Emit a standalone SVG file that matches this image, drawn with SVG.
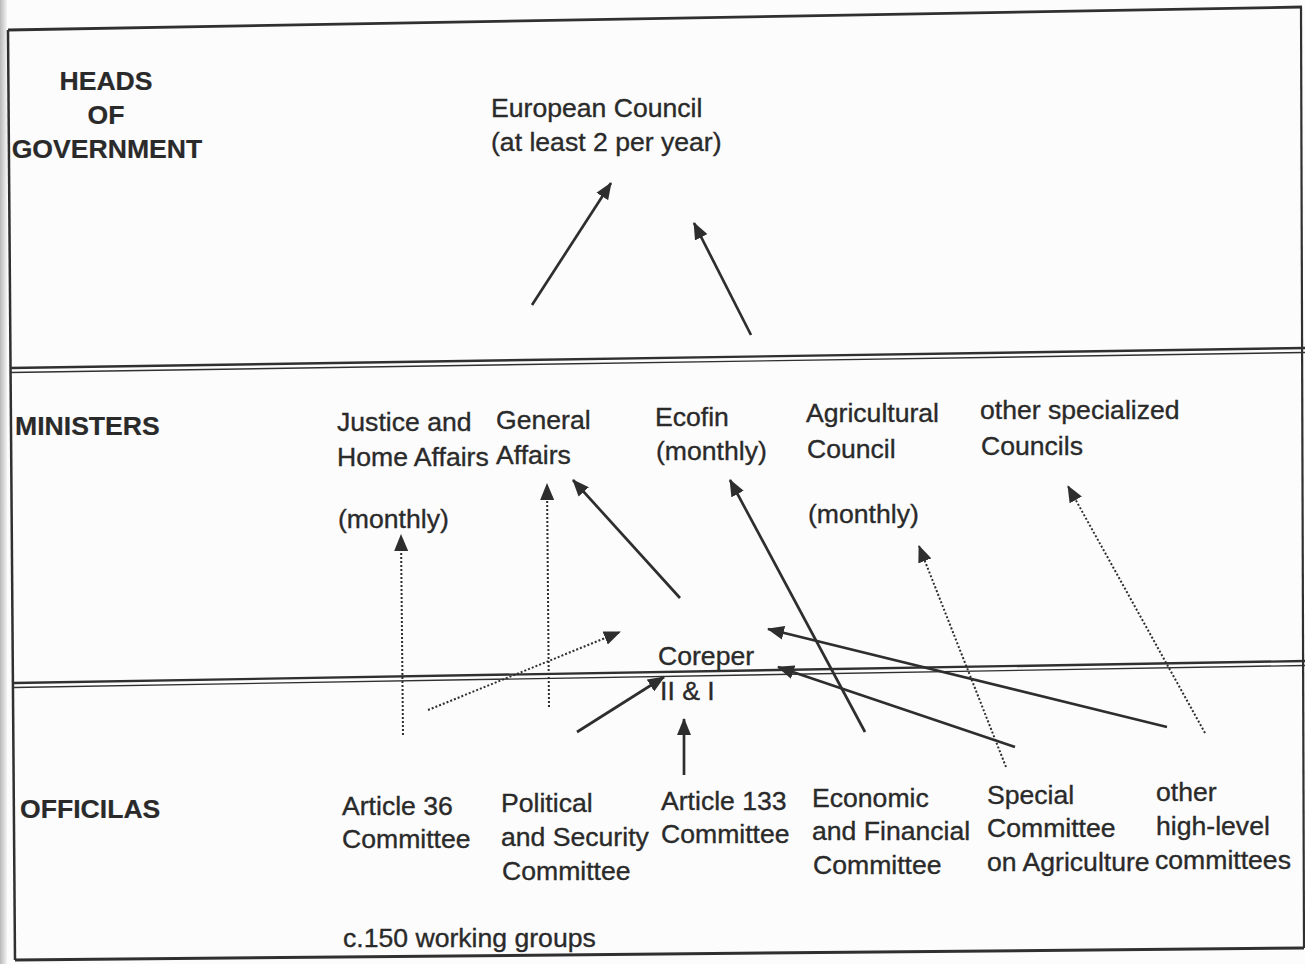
<svg xmlns="http://www.w3.org/2000/svg" width="1305" height="964" viewBox="0 0 1305 964">
<style>
.t{font-family:"Liberation Sans",Arial,sans-serif;font-size:26.6px;fill:#2a2a2a;stroke:#2a2a2a;stroke-width:0.35}
.b{font-weight:bold;stroke-width:0.2}
.frame{stroke:#303030;fill:none}
.c{stroke:#2e2e2e;stroke-width:2.7;fill:none;marker-end:url(#ah)}
.d{stroke:#2e2e2e;stroke-width:2;stroke-dasharray:2 2;fill:none;marker-end:url(#ah)}
</style>
<defs>
<marker id="ah" markerUnits="userSpaceOnUse" markerWidth="18" markerHeight="14" refX="16" refY="7" orient="auto">
<path d="M0,0 L17,7 L0,14 Z" fill="#2e2e2e"/>
</marker>
<linearGradient id="edge" x1="0" y1="0" x2="1" y2="0">
<stop offset="0" stop-color="#b8b8b8"/>
<stop offset="1" stop-color="#f4f4f4"/>
</linearGradient>
</defs>
<rect width="1305" height="964" fill="#fcfcfc"/>
<rect x="0" y="0" width="7" height="964" fill="url(#edge)"/>

<g id="frame">
<path class="frame" stroke-width="2.8" d="M8,30 L1302,7"/>
<path class="frame" stroke-width="2.5" d="M8,30 L15,960"/>
<path class="frame" stroke-width="2.2" d="M1301,7 L1304,948"/>
<path class="frame" stroke-width="3" d="M15,960 L1304,948"/>
<path class="frame" stroke-width="2.4" d="M10,368 L1305,348"/>
<path class="frame" stroke-width="1.4" d="M10,372.5 L1305,352.5"/>
<path class="frame" stroke-width="2.4" d="M14,683 L1305,661"/>
<path class="frame" stroke-width="1.4" d="M14,687.5 L1305,665.5"/>
</g>

<g id="connectors">
<line class="c" x1="532" y1="305" x2="611" y2="183"/>
<line class="c" x1="751" y1="335" x2="694" y2="223"/>
<line class="d" x1="403" y1="735" x2="401" y2="535"/>
<line class="d" x1="549" y1="707" x2="547" y2="484"/>
<line class="d" x1="428" y1="710" x2="620" y2="632"/>
<line class="c" x1="680" y1="598" x2="573" y2="480"/>
<line class="c" x1="865" y1="732" x2="730" y2="480"/>
<line class="c" x1="1167" y1="727" x2="768" y2="629"/>
<line class="c" x1="1015" y1="747" x2="778" y2="667"/>
<line class="c" x1="577" y1="732" x2="664" y2="677"/>
<line class="c" x1="684" y1="775" x2="684" y2="719"/>
<line class="d" x1="1006" y1="767" x2="919" y2="546"/>
<line class="d" x1="1205" y1="733" x2="1068" y2="486"/>
</g>

<g id="heads-of-government">
<text class="t b" text-anchor="middle" x="106" y="90">HEADS</text>
<text class="t b" text-anchor="middle" x="106" y="124">OF</text>
<text class="t b" text-anchor="middle" x="107" y="158">GOVERNMENT</text>
</g>
<g id="european-council">
<text class="t" x="491" y="117">European Council</text>
<text class="t" x="491" y="151">(at least 2 per year)</text>
</g>

<g id="ministers">
<text class="t b" x="15" y="435">MINISTERS</text>
</g>
<g id="justice-home-affairs">
<text class="t" x="337" y="431">Justice and</text>
<text class="t" x="337" y="466">Home Affairs</text>
<text class="t" x="338" y="528">(monthly)</text>
</g>
<g id="general-affairs">
<text class="t" x="496" y="429">General</text>
<text class="t" x="496" y="464">Affairs</text>
</g>
<g id="ecofin">
<text class="t" x="655" y="426">Ecofin</text>
<text class="t" x="656" y="460">(monthly)</text>
</g>
<g id="agricultural-council">
<text class="t" x="806" y="422">Agricultural</text>
<text class="t" x="807" y="458">Council</text>
<text class="t" x="808" y="523">(monthly)</text>
</g>
<g id="other-councils">
<text class="t" x="980" y="419">other specialized</text>
<text class="t" x="981" y="455">Councils</text>
</g>

<g id="coreper">
<text class="t" x="658" y="665">Coreper</text>
<text class="t" x="660" y="700">II &amp; I</text>
</g>

<g id="officials">
<text class="t b" x="20" y="818">OFFICILAS</text>
</g>
<g id="article-36">
<text class="t" x="342" y="815">Article 36</text>
<text class="t" x="342" y="848">Committee</text>
</g>
<g id="psc">
<text class="t" x="501" y="812">Political</text>
<text class="t" x="501" y="846">and Security</text>
<text class="t" x="502" y="880">Committee</text>
</g>
<g id="article-133">
<text class="t" x="661" y="810">Article 133</text>
<text class="t" x="661" y="843">Committee</text>
</g>
<g id="efc">
<text class="t" x="812" y="807">Economic</text>
<text class="t" x="812" y="840">and Financial</text>
<text class="t" x="813" y="874">Committee</text>
</g>
<g id="sca">
<text class="t" x="987" y="804">Special</text>
<text class="t" x="987" y="837">Committee</text>
<text class="t" x="987" y="871">on Agriculture</text>
</g>
<g id="other-committees">
<text class="t" x="1156" y="801">other</text>
<text class="t" x="1156" y="835">high-level</text>
<text class="t" x="1155" y="869">committees</text>
</g>
<g id="working-groups">
<text class="t" x="343" y="947">c.150 working groups</text>
</g>
</svg>
